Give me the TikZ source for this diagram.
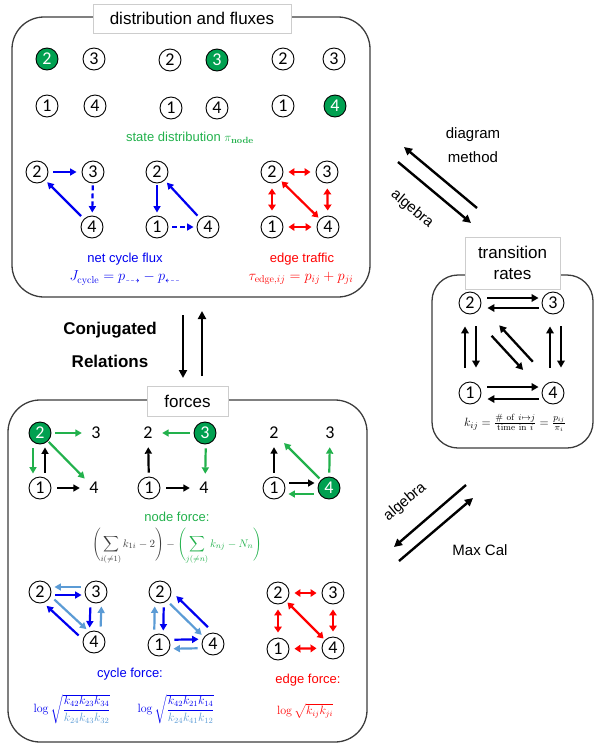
\documentclass[tikz,border=0pt]{standalone}
\usepackage{amsmath,amssymb}
\usepackage[no-math]{fontspec}
\setmainfont{Liberation Sans}
\newfontfamily\numfont{Carlito}
\usetikzlibrary{arrows.meta}
\definecolor{ngreen}{RGB}{0,160,80}
\definecolor{tgreen}{RGB}{34,177,76}
\definecolor{dblue}{RGB}{0,0,240}
\definecolor{lblue}{RGB}{91,155,213}
\definecolor{pline}{RGB}{60,60,60}
\definecolor{tbox}{RGB}{205,205,205}
\definecolor{fgray}{RGB}{60,60,60}
\begin{document}
\begin{tikzpicture}[x=1pt,y=-1pt,
  st/.style={circle,draw=black,line width=0.9pt,minimum size=22pt,inner sep=0pt,font=\numfont\fontsize{18}{18}\selectfont},
  stg/.style={st,fill=ngreen,text=white},
  pl/.style={circle,minimum size=22pt,inner sep=0pt,font=\numfont\fontsize{18}{18}\selectfont},
  ar/.style={line width=2.2pt,-{Triangle[length=6.5pt,width=7pt]},shorten <=4pt,shorten >=3pt},
  dar/.style={ar,dash pattern=on 5pt off 3pt},
  dbl/.style={draw=red,line width=2.2pt,{Triangle[length=6pt,width=7.5pt]}-{Triangle[length=6pt,width=7.5pt]},shorten <=5pt,shorten >=5pt},
  tar/.style={line width=2.3pt,-{Triangle[length=7pt,width=7.5pt]},shorten <=6pt,shorten >=3pt},
  big/.style={line width=2.4pt,-{Triangle[length=8pt,width=8pt]}},
  panel/.style={draw=pline,line width=1.3pt,rounded corners=32pt},
  tbx/.style={draw=tbox,fill=white,line width=0.8pt,inner sep=0pt},
  lab/.style={font=\fontsize{17}{20}\selectfont},
  mid/.style={font=\fontsize{15}{18}\selectfont},
  sm/.style={font=\fontsize{13}{15}\selectfont},
  fm/.style={font=\fontsize{14}{16}\selectfont},
]
\useasboundingbox (0,0) rectangle (594,745);

% ---------------- panels ----------------
\draw[panel] (12,17) rectangle (370,297);
\node[tbx,lab,minimum width=198pt,minimum height=29pt] (t1) at (192,18.5) {distribution and fluxes};

\draw[panel] (8,400) rectangle (367,742);
\node[tbx,lab,minimum width=81pt,minimum height=30pt] (t2) at (187.5,401) {forces};

\draw[panel,rounded corners=26pt] (432,275) rectangle (593,448);
\node[tbx,lab,minimum width=95pt,minimum height=52pt,align=center] (t3) at (512.5,263) {transition\\[1pt]rates};

% ---------------- state distribution ----------------
\node[stg] (a2) at (47,59) {2};
\node[st] (a3) at (94,59) {3};
\node[st] (a1) at (47,106) {1};
\node[st] (a4) at (95,106) {4};

\node[st] (b2) at (170,60) {2};
\node[stg] (b3) at (217,60) {3};
\node[st] (b1) at (171,108) {1};
\node[st] (b4) at (217,108) {4};

\node[st] (c2) at (283,59) {2};
\node[st] (c3) at (334,59) {3};
\node[st] (c1) at (283,106) {1};
\node[stg] (c4) at (335,106) {4};

\node[sm,text=tgreen] (sdl) at (190,138) {state distribution $\pi_{\mathbf{node}}$};

% ---------------- net cycle flux ----------------
\node[st] (d2) at (37,172) {2};
\node[st] (d3) at (93,172) {3};
\node[st] (d4) at (92,227) {4};
\draw[ar,dblue,shorten <=5pt,shorten >=5pt] (d2) -- (d3);
\draw[dar,dblue,shorten <=2pt,shorten >=3pt] (d3) -- (d4);
\draw[ar,dblue] (d4) -- (d2);

\node[st] (e2) at (157,172) {2};
\node[st] (e1) at (157,227) {1};
\node[st] (e4) at (208,227) {4};
\draw[ar,dblue,shorten <=2pt] (e2) -- (e1);
\draw[dar,dblue] (e1) -- (e4);
\draw[ar,dblue] (e4) -- (e2);

\node[st] (f2) at (272,172) {2};
\node[st] (f3) at (327,172) {3};
\node[st] (f1) at (272,227) {1};
\node[st] (f4) at (328,227) {4};
\draw[dbl] (f2) -- (f3);
\draw[dbl] (f2) -- (f1);
\draw[dbl] (f3) -- (f4);
\draw[dbl] (f1) -- (f4);
\draw[dbl,shorten <=2pt,shorten >=2pt] (f2) -- (f4);

\node[sm,text=dblue] (ncf) at (125,259) {net cycle flux};
\node[fm,text=dblue] (ncfm) at (125,278) {$J_{\mathrm{cycle}} = p_{\dashrightarrow} - p_{\dashleftarrow}$};
\node[sm,text=red] (etl) at (302,259) {edge traffic};
\node[fm,text=red] (etm) at (301,278) {$\tau_{\mathrm{edge},ij} = p_{ij} + p_{ji}$};

% ---------------- conjugated relations ----------------
\node[font=\bfseries\fontsize{17}{20}\selectfont] (cj1) at (110,330) {Conjugated};
\node[font=\bfseries\fontsize{17}{20}\selectfont] (cj2) at (110,361) {Relations};
\coordinate (cdA) at (183,315);
\coordinate (cdB) at (183,378);
\coordinate (cuA) at (202,376);
\coordinate (cuB) at (202,311);
\draw[big] (cdA) -- (cdB);
\draw[big] (cuA) -- (cuB);

% ---------------- diagram method / algebra (top right) ----------------
\coordinate (dmA) at (477,208);
\coordinate (dmB) at (404,147);
\coordinate (alA) at (398,162);
\coordinate (alB) at (471,223);
\draw[big] (dmA) -- (dmB);
\draw[big] (alA) -- (alB);
\node[mid] (dm1) at (473,135) {diagram};
\node[mid] (dm2) at (473,157) {method};
\node[mid,rotate=-40,inner sep=0pt] (alg1) at (412,209) {algebra};

% ---------------- Max Cal / algebra (bottom right) ----------------
\coordinate (mcA) at (466,485);
\coordinate (mcB) at (394,547);
\coordinate (mcC) at (399,561);
\coordinate (mcD) at (473,498);
\draw[big] (mcA) -- (mcB);
\draw[big] (mcC) -- (mcD);
\node[mid,rotate=40,inner sep=0pt] (alg2) at (405,502) {algebra};
\node[mid] (mxc) at (480,550) {Max Cal};

% ---------------- transition rates ----------------
\node[st] (m2) at (470,303) {2};
\node[st] (m3) at (553,303) {3};
\node[st] (m1) at (470,393) {1};
\node[st] (m4) at (553,393) {4};
\draw[tar,transform canvas={yshift=5pt}] (m2) -- (m3);
\draw[tar,transform canvas={yshift=-5pt},shorten <=3pt,shorten >=6pt] (m3) -- (m2);
\draw[tar,transform canvas={xshift=-5pt},shorten <=14pt,shorten >=12pt] (m1) -- (m2);
\draw[tar,transform canvas={xshift=6pt},shorten <=12pt,shorten >=14pt] (m2) -- (m1);
\draw[tar,transform canvas={xshift=-3pt},shorten <=14pt,shorten >=12pt] (m4) -- (m3);
\draw[tar,transform canvas={xshift=8pt},shorten <=12pt,shorten >=14pt] (m3) -- (m4);
\draw[tar,transform canvas={yshift=6pt}] (m1) -- (m4);
\draw[tar,transform canvas={yshift=-6pt},shorten <=3pt,shorten >=6pt] (m4) -- (m1);
\draw[tar,transform canvas={shift={(4.5pt,4.5pt)}},shorten <=25pt,shorten >=25pt] (m4) -- (m2);
\draw[tar,transform canvas={shift={(-4.5pt,-4.5pt)}},shorten <=27pt,shorten >=26pt] (m2) -- (m4);
\node[font=\fontsize{13}{15}\selectfont] (kf) at (515,423) {$k_{ij} = \frac{\mathrm{\#\ of\ }i\mapsto j}{\mathrm{time\ in\ }i} = \frac{p_{ij}}{\pi_i}$};

% ---------------- forces, node force ----------------
\node[stg] (g2) at (40,433) {2};
\node[pl] (g3) at (96,433) {3};
\node[st] (g1) at (40,488) {1};
\node[pl] (g4) at (94,488) {4};
\draw[ar,tgreen] (g2) -- (g3);
\draw[ar,tgreen,transform canvas={xshift=-7pt}] (g2) -- (g1);
\draw[ar,black,transform canvas={xshift=5pt}] (g1) -- (g2);
\draw[ar,tgreen,shorten <=1pt,shorten >=2pt] (g2) -- (g4);
\draw[ar,black,shorten <=6pt] (g1) -- (g4);

\node[pl] (h2) at (148,433) {2};
\node[stg] (h3) at (205,433) {3};
\node[st] (h1) at (149,488) {1};
\node[pl] (h4) at (204,488) {4};
\draw[ar,tgreen] (h3) -- (h2);
\draw[ar,black] (h1) -- (h2);
\draw[ar,tgreen,transform canvas={xshift=1pt}] (h3) -- (h4);
\draw[ar,black,shorten <=6pt] (h1) -- (h4);

\node[pl] (i2) at (274,433) {2};
\node[pl] (i3) at (330,433) {3};
\node[st] (i1) at (274,488) {1};
\node[stg] (i4) at (329,488) {4};
\draw[ar,black] (i1) -- (i2);
\draw[ar,tgreen,shorten <=2pt] (i4) -- (i2);
\draw[ar,tgreen] (i4) -- (i3);
\draw[ar,black,transform canvas={yshift=5pt}] (i1) -- (i4);
\draw[ar,tgreen,transform canvas={yshift=-6pt}] (i4) -- (i1);

\node[sm,text=tgreen,inner sep=1pt] (nfl) at (177,517) {node force:};
\node[font=\fontsize{11}{13}\selectfont,inner sep=0pt] (nfm) at (177,546) {$\displaystyle\color{fgray}\Biggl(\sum_{i(\neq 1)} k_{1i} - 2\Biggr) - \color{tgreen}\Biggl(\sum_{j(\neq n)} k_{nj} - N_n\Biggr)$};

% ---------------- cycle force ----------------
\node[st] (j2) at (40,592) {2};
\node[st] (j3) at (96,592) {3};
\node[st] (j4) at (94,642) {4};
\draw[ar,lblue,transform canvas={yshift=5pt}] (j3) -- (j2);
\draw[ar,dblue,transform canvas={yshift=-3pt}] (j2) -- (j3);
\draw[ar,dblue,transform canvas={xshift=-5pt}] (j3) -- (j4);
\draw[ar,lblue,transform canvas={xshift=6pt}] (j4) -- (j3);
\draw[ar,lblue,transform canvas={shift={(3pt,3pt)}}] (j2) -- (j4);
\draw[ar,dblue,transform canvas={shift={(-4pt,-4pt)}}] (j4) -- (j2);

\node[st] (k2) at (160,592) {2};
\node[st] (k1) at (159,645) {1};
\node[st] (k4) at (213,644) {4};
\draw[ar,lblue,transform canvas={xshift=-5pt}] (k1) -- (k2);
\draw[ar,dblue,transform canvas={xshift=4pt}] (k2) -- (k1);
\draw[ar,dblue,transform canvas={yshift=5pt}] (k1) -- (k4);
\draw[ar,lblue,transform canvas={yshift=-4pt}] (k4) -- (k1);
\draw[ar,lblue,transform canvas={shift={(-1pt,-1pt)}}] (k2) -- (k4);
\draw[ar,dblue,transform canvas={shift={(6pt,6pt)}}] (k4) -- (k2);

\node[st] (l2) at (278,593) {2};
\node[st] (l3) at (333,593) {3};
\node[st] (l1) at (278,649) {1};
\node[st] (l4) at (333,648) {4};
\draw[dbl] (l2) -- (l3);
\draw[dbl] (l2) -- (l1);
\draw[dbl] (l3) -- (l4);
\draw[dbl] (l1) -- (l4);
\draw[dbl,shorten <=2pt,shorten >=2pt] (l2) -- (l4);

\node[sm,text=dblue] (cfl) at (130,674) {cycle force:};
\node[font=\fontsize{12}{14}\selectfont,text=dblue] (cf1) at (72,709) {$\log\sqrt{\dfrac{k_{42}k_{23}k_{34}}{\color{lblue}k_{24}k_{43}k_{32}}}$};
\node[font=\fontsize{12}{14}\selectfont,text=dblue] (cf2) at (176,709) {$\log\sqrt{\dfrac{k_{42}k_{21}k_{14}}{\color{lblue}k_{24}k_{41}k_{12}}}$};
\node[sm,text=red] (efl) at (308,680) {edge force:};
\node[font=\fontsize{12}{14}\selectfont,text=red] (ef) at (305,711) {$\log\sqrt{k_{ij}k_{ji}}$};
\end{tikzpicture}
\end{document}
